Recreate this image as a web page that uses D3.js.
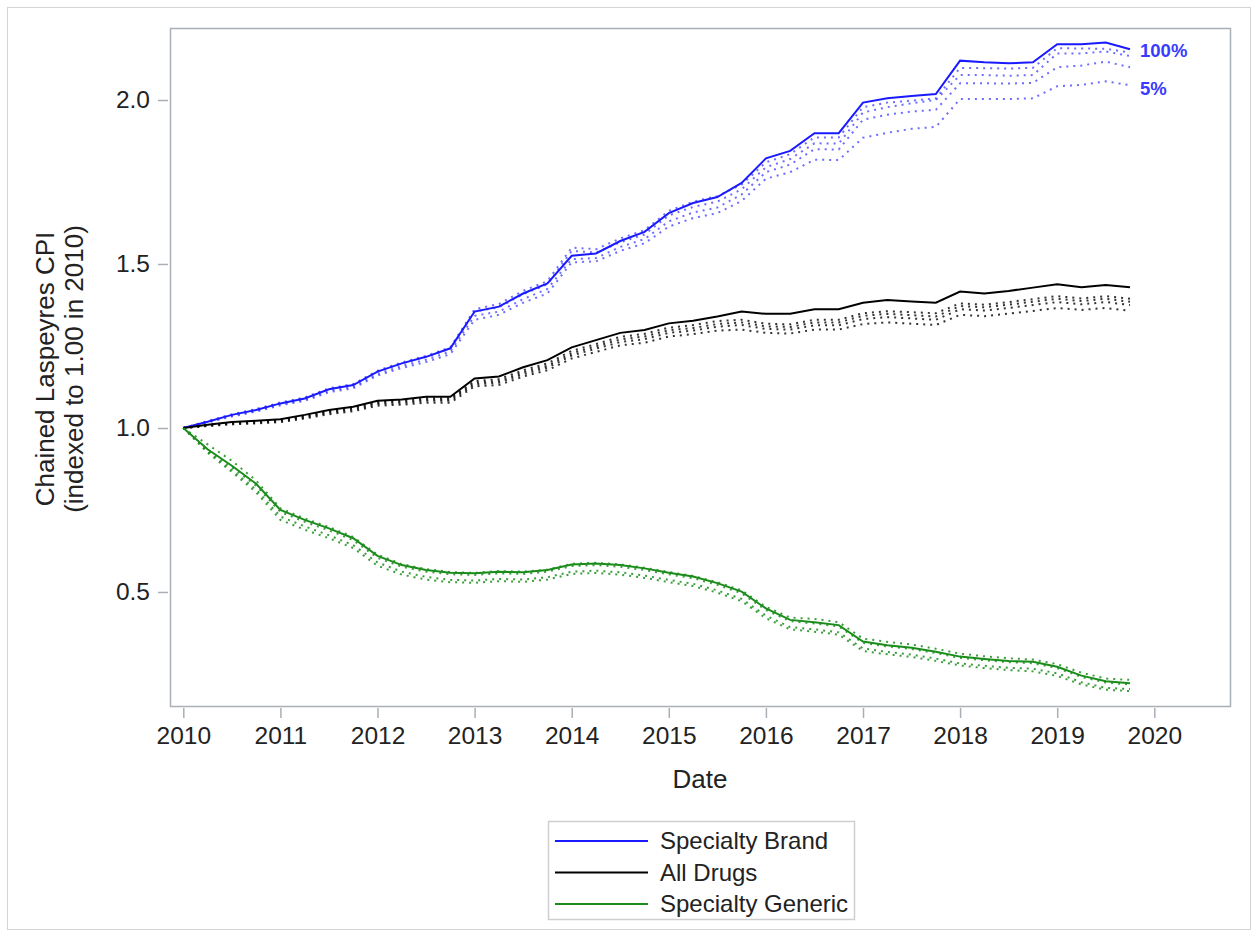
<!DOCTYPE html>
<html><head><meta charset="utf-8">
<script src="https://cdn.jsdelivr.net/npm/d3@7/dist/d3.min.js"></script>
<style>
body{margin:0;background:#fff;}
svg{font-family:"Liberation Sans",Arial,sans-serif;}
</style>
</head><body>
<svg id="chart" width="1258" height="936"></svg>
<script>
// Quarterly dates (decimal years)
const dates = [2010.00,2010.25,2010.50,2010.75,2011.00,2011.25,2011.50,2011.75,
  2012.00,2012.25,2012.50,2012.75,2013.00,2013.25,2013.50,2013.75,
  2014.00,2014.25,2014.50,2014.75,2015.00,2015.25,2015.50,2015.75,
  2016.00,2016.25,2016.50,2016.75,2017.00,2017.25,2017.50,2017.75,
  2018.00,2018.25,2018.50,2018.75,2019.00,2019.25,2019.50,2019.75];

const xTicks = [2010,2011,2012,2013,2014,2015,2016,2017,2018,2019,2020];
const yTicks = [0.5,1.0,1.5,2.0];

const categories = ["Specialty Brand","All Drugs","Specialty Generic"];
const levels = ["100%","d1","d2","d3","5%"];

// Specialty Brand
const brand100 = [1.000,1.019,1.040,1.055,1.075,1.090,1.118,1.131,1.172,1.197,1.217,1.243,1.355,1.370,1.410,1.441,1.525,1.532,1.570,1.598,1.655,1.686,1.704,1.747,1.822,1.845,1.899,1.899,1.992,2.005,2.012,2.018,2.120,2.115,2.112,2.115,2.170,2.170,2.175,2.155];
const brandD1  = [1.000,1.021,1.042,1.058,1.078,1.093,1.121,1.134,1.175,1.200,1.220,1.246,1.362,1.378,1.418,1.448,1.550,1.545,1.578,1.603,1.662,1.690,1.707,1.742,1.810,1.835,1.886,1.886,1.978,1.992,1.998,2.005,2.098,2.097,2.096,2.098,2.158,2.157,2.156,2.145];
const brandD2  = [1.000,1.020,1.040,1.056,1.076,1.091,1.119,1.132,1.172,1.197,1.216,1.242,1.355,1.368,1.408,1.438,1.540,1.535,1.566,1.590,1.648,1.674,1.690,1.728,1.795,1.820,1.868,1.867,1.962,1.978,1.990,2.000,2.076,2.076,2.074,2.076,2.142,2.142,2.148,2.134];
const brandD3  = [1.000,1.018,1.037,1.052,1.072,1.086,1.113,1.125,1.165,1.189,1.208,1.233,1.342,1.355,1.393,1.424,1.515,1.518,1.552,1.576,1.630,1.657,1.672,1.712,1.780,1.803,1.850,1.849,1.940,1.955,1.965,1.970,2.051,2.051,2.050,2.052,2.100,2.105,2.117,2.100];
const brand5   = [1.000,1.017,1.035,1.050,1.069,1.083,1.109,1.121,1.160,1.183,1.201,1.225,1.330,1.345,1.382,1.410,1.505,1.508,1.540,1.563,1.614,1.640,1.655,1.692,1.760,1.780,1.818,1.817,1.885,1.900,1.912,1.918,2.003,2.003,2.003,2.005,2.042,2.046,2.057,2.045];

// All Drugs
const all100 = [1.000,1.010,1.018,1.022,1.027,1.040,1.055,1.065,1.083,1.087,1.095,1.095,1.151,1.157,1.185,1.207,1.246,1.268,1.290,1.299,1.319,1.327,1.340,1.355,1.348,1.348,1.362,1.362,1.382,1.390,1.386,1.382,1.416,1.410,1.418,1.428,1.438,1.429,1.436,1.429];
const allD1  = [1.000,1.009,1.016,1.020,1.025,1.037,1.052,1.062,1.080,1.084,1.091,1.091,1.143,1.149,1.176,1.197,1.235,1.256,1.278,1.287,1.306,1.314,1.326,1.330,1.318,1.316,1.330,1.330,1.350,1.356,1.353,1.350,1.380,1.376,1.384,1.393,1.402,1.395,1.402,1.394];
const allD2  = [1.000,1.008,1.015,1.018,1.023,1.035,1.049,1.059,1.077,1.080,1.087,1.087,1.138,1.143,1.170,1.190,1.228,1.249,1.270,1.279,1.298,1.305,1.317,1.322,1.310,1.308,1.322,1.322,1.342,1.348,1.344,1.340,1.372,1.368,1.376,1.385,1.394,1.387,1.394,1.385];
const allD3  = [1.000,1.007,1.013,1.016,1.020,1.032,1.046,1.055,1.073,1.076,1.083,1.083,1.133,1.138,1.164,1.184,1.221,1.242,1.262,1.271,1.290,1.297,1.309,1.314,1.302,1.300,1.313,1.313,1.332,1.338,1.334,1.330,1.362,1.358,1.366,1.375,1.384,1.377,1.384,1.375];
const all5   = [1.000,1.006,1.011,1.014,1.018,1.029,1.042,1.051,1.068,1.071,1.077,1.077,1.127,1.131,1.157,1.176,1.212,1.232,1.252,1.260,1.279,1.286,1.297,1.300,1.290,1.288,1.300,1.300,1.317,1.322,1.318,1.314,1.345,1.341,1.349,1.357,1.366,1.360,1.366,1.357];

// Specialty Generic
const gen100 = [1.000,0.935,0.885,0.830,0.750,0.720,0.694,0.664,0.610,0.582,0.567,0.559,0.557,0.562,0.560,0.567,0.584,0.587,0.582,0.572,0.559,0.547,0.527,0.501,0.450,0.415,0.408,0.399,0.349,0.338,0.330,0.318,0.303,0.296,0.290,0.287,0.272,0.245,0.228,0.222];
const genD1  = [1.000,0.950,0.900,0.840,0.755,0.724,0.698,0.668,0.614,0.585,0.570,0.561,0.558,0.564,0.562,0.568,0.586,0.589,0.584,0.574,0.561,0.549,0.530,0.505,0.455,0.422,0.418,0.408,0.358,0.348,0.340,0.327,0.312,0.304,0.298,0.294,0.280,0.254,0.236,0.232];
const genD2  = [1.000,0.932,0.880,0.824,0.744,0.714,0.688,0.658,0.604,0.577,0.562,0.554,0.552,0.557,0.555,0.562,0.579,0.582,0.577,0.567,0.554,0.542,0.522,0.496,0.445,0.411,0.404,0.395,0.345,0.334,0.326,0.314,0.299,0.292,0.286,0.283,0.268,0.241,0.224,0.218];
const genD3  = [1.000,0.928,0.872,0.812,0.730,0.700,0.673,0.643,0.590,0.562,0.546,0.537,0.535,0.540,0.538,0.545,0.562,0.565,0.560,0.550,0.537,0.525,0.505,0.479,0.428,0.393,0.386,0.377,0.328,0.317,0.309,0.297,0.282,0.275,0.269,0.266,0.252,0.225,0.208,0.204];
const gen5   = [1.000,0.925,0.866,0.804,0.720,0.690,0.664,0.634,0.580,0.553,0.538,0.530,0.528,0.533,0.531,0.538,0.555,0.558,0.553,0.543,0.530,0.518,0.498,0.472,0.420,0.386,0.379,0.370,0.320,0.310,0.302,0.290,0.276,0.268,0.262,0.258,0.244,0.218,0.202,0.198];

const colors = {"Specialty Brand":"#1a1aff","All Drugs":"#000000","Specialty Generic":"#1a8c1a"};
const dotColors = {"Specialty Brand":"#3c3cff","All Drugs":"#111111","Specialty Generic":"#1a8c1a"};

const seriesData = [
  {cat:"Specialty Brand", lvl:"100%", v:brand100},
  {cat:"Specialty Brand", lvl:"d1", v:brandD1},
  {cat:"Specialty Brand", lvl:"d2", v:brandD2},
  {cat:"Specialty Brand", lvl:"d3", v:brandD3},
  {cat:"Specialty Brand", lvl:"5%", v:brand5},
  {cat:"All Drugs", lvl:"100%", v:all100},
  {cat:"All Drugs", lvl:"d1", v:allD1},
  {cat:"All Drugs", lvl:"d2", v:allD2},
  {cat:"All Drugs", lvl:"d3", v:allD3},
  {cat:"All Drugs", lvl:"5%", v:all5},
  {cat:"Specialty Generic", lvl:"100%", v:gen100},
  {cat:"Specialty Generic", lvl:"d1", v:genD1},
  {cat:"Specialty Generic", lvl:"d2", v:genD2},
  {cat:"Specialty Generic", lvl:"d3", v:genD3},
  {cat:"Specialty Generic", lvl:"5%", v:gen5}
];

const svg = d3.select("#chart");
const frame = {left:170, top:28, right:1230, bottom:706};

// outer border
svg.append("rect").attr("x",7.5).attr("y",7.5).attr("width",1243).attr("height",922)
  .attr("fill","#fff").attr("stroke","#d4d4d4").attr("stroke-width",1);

const x = d3.scaleLinear().domain([2010,2020]).range([183.3,1154.3]);
const y = d3.scaleLinear().domain([1,2]).range([428,100]);

// plot frame
svg.append("rect").attr("x",frame.left+0.5).attr("y",frame.top+0.5)
  .attr("width",frame.right-frame.left).attr("height",frame.bottom-frame.top)
  .attr("fill","none").attr("stroke","#a8afb6").attr("stroke-width",1.5);

const axisColor = "#a8afb6";
const gx = svg.append("g").attr("transform",`translate(0,${frame.bottom+2})`)
  .call(d3.axisBottom(x).tickValues(xTicks).tickFormat(d3.format("d")).tickSize(10).tickSizeOuter(0).tickPadding(9));
const gy = svg.append("g").attr("transform",`translate(${frame.left-2},0)`)
  .call(d3.axisLeft(y).tickValues(yTicks).tickFormat(d3.format(".1f")).tickSize(10).tickSizeOuter(0).tickPadding(8));
[gx,gy].forEach(g=>{
  g.select(".domain").remove();
  g.selectAll(".tick line").attr("stroke",axisColor).attr("stroke-width",1.5);
  g.selectAll(".tick text").attr("fill","#222").style("font-size","24.5px").style("font-family","'Liberation Sans',Arial,sans-serif");
});

// axis titles
svg.append("text").attr("x",(frame.left+frame.right)/2).attr("y",788)
  .attr("text-anchor","middle").attr("fill","#222").style("font-size","26px").text("Date");
const yt = svg.append("text").attr("transform",`translate(54,369) rotate(-90)`)
  .attr("text-anchor","middle").attr("fill","#222").style("font-size","26px");
yt.append("tspan").attr("x",0).attr("dy",0).text("Chained Laspeyres CPI");
yt.append("tspan").attr("x",0).attr("dy",29).text("(indexed to 1.00 in 2010)");

// lines
const line = d3.line().x((d,i)=>x(dates[i])).y(d=>y(d));
const plot = svg.append("g");
// dotted first, solid on top
seriesData.filter(s=>s.lvl!=="100%").forEach(s=>{
  plot.append("path").datum(s.v).attr("d",line).attr("fill","none")
    .attr("stroke",dotColors[s.cat]).attr("stroke-width",2)
    .attr("stroke-dasharray","2,5").attr("opacity",s.cat==="Specialty Brand"?0.75:0.85);
});
seriesData.filter(s=>s.lvl==="100%").forEach(s=>{
  plot.append("path").datum(s.v).attr("d",line).attr("fill","none")
    .attr("stroke",colors[s.cat]).attr("stroke-width",2);
});

// end labels for Specialty Brand
const lastI = dates.length-1;
svg.append("text").attr("x",x(dates[lastI])+10).attr("y",y(brand100[lastI])+1)
  .attr("dy","0.35em").attr("fill","#3a3aff").style("font-size","18.5px").style("font-weight","bold").text("100%");
svg.append("text").attr("x",x(dates[lastI])+10).attr("y",y(brand5[lastI])+3)
  .attr("dy","0.35em").attr("fill","#3a3aff").style("font-size","18.5px").style("font-weight","bold").text("5%");

// legend
const lg = svg.append("g");
lg.append("rect").attr("x",548.5).attr("y",821.5).attr("width",306).attr("height",98)
  .attr("fill","#fff").attr("stroke","#cfcfcf").attr("stroke-width",1.5);
categories.forEach((c,i)=>{
  const yy = 841 + i*31.5;
  lg.append("line").attr("x1",555).attr("x2",648).attr("y1",yy).attr("y2",yy)
    .attr("stroke",colors[c]).attr("stroke-width",2);
  lg.append("text").attr("x",660).attr("y",yy).attr("dy","0.35em").attr("fill","#222")
    .style("font-size","24px").text(c);
});
</script>
</body></html>
